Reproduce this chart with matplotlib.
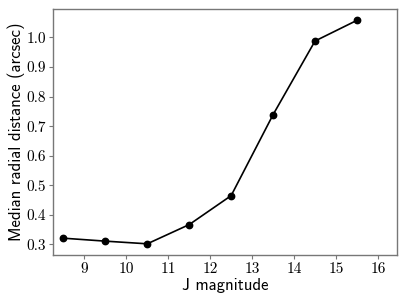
import numpy as np
import matplotlib.pyplot as plt

# median radial distance per J magnitude bin
jmag = [8.5, 9.5, 10.5, 11.5, 12.5, 13.5, 14.5, 15.5]
med_dist = [0.321, 0.311, 0.302, 0.367, 0.465, 0.739, 0.988, 1.058]

xticks = [9, 10, 11, 12, 13, 14, 15, 16]
yticks = [0.3, 0.4, 0.5, 0.6, 0.7, 0.8, 0.9, 1.0]

fig = plt.figure(figsize=(4.07, 3.05), dpi=100)
ax = fig.add_axes([0.130, 0.164, 0.845, 0.806])

ax.plot(jmag, med_dist, 'k-o', lw=1.2, ms=4.6)

ax.set_xlim(8.25, 16.45)
ax.set_xticks(xticks)
ax.set_yticks(yticks)
ax.set_xticklabels([str(t) for t in xticks], fontfamily='cmr10', fontsize=11)
ax.set_yticklabels(['%.1f' % t for t in yticks], fontfamily='cmr10', fontsize=11)

for s in ax.spines.values():
    s.set_color('#777777')
    s.set_linewidth(1.0)
ax.tick_params(color='#777777', length=3, width=0.8, pad=2)

ax.set_xlabel('J magnitude', fontfamily='cmss10', fontsize=12, labelpad=2)
ax.set_ylabel('Median radial distance (arcsec)', fontfamily='cmss10', fontsize=12, labelpad=1)

fig.savefig('out.png', dpi=100)
